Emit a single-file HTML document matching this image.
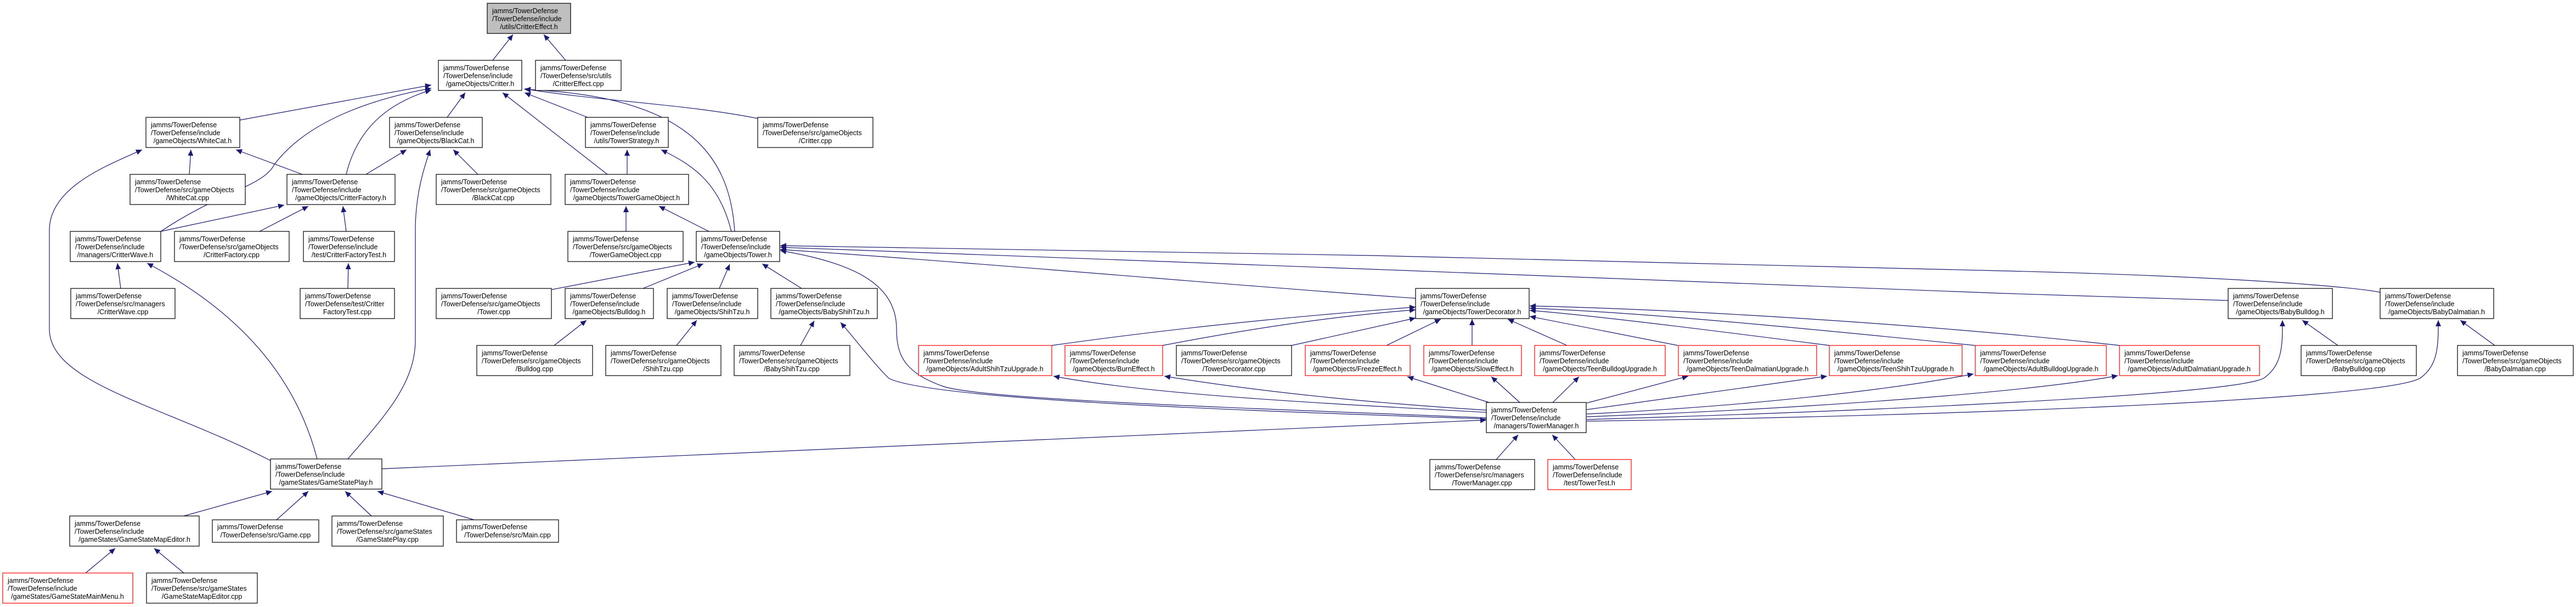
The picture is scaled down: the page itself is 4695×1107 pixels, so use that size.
<!DOCTYPE html>
<html><head><meta charset="utf-8"><style>
html,body{margin:0;padding:0;background:#fff;}
svg{display:block;}
text{font-family:"Liberation Sans",Arial,sans-serif;font-size:12.5px;fill:#000;}
.n{fill:#fff;stroke:#000;stroke-width:1.2;}
.r{fill:#fff;stroke:#ff0000;stroke-width:1.2;}
.g{fill:#bfbfbf;stroke:#000;stroke-width:1.2;}
.e{fill:none;stroke:#191970;stroke-width:1.2;marker-end:url(#a);}
</style></head><body>
<svg width="4695" height="1107" viewBox="0 0 4695 1107" xmlns="http://www.w3.org/2000/svg">
<defs><marker id="a" markerUnits="userSpaceOnUse" markerWidth="12" markerHeight="10" refX="11" refY="5" orient="auto"><path d="M0,0 L11,5 L0,10 z" fill="#191970"/></marker></defs>

<!-- edges -->
<path class="e" d="M898,110 L935,63"/>
<path class="e" d="M1031,110 L991,63"/>
<path class="e" d="M437,219 L786,155"/>
<path class="e" d="M293,422 C400,350 480,340 500,300 C560,220 680,180 786,161"/>
<path class="e" d="M631,318 C650,240 700,190 786,164"/>
<path class="e" d="M815,214 L848,169"/>
<path class="e" d="M1107,318 L916,169"/>
<path class="e" d="M1071,214 L956,169"/>
<path class="e" d="M1339,422 C1330,280 1250,175 956,163"/>
<path class="e" d="M1381,216 C1250,190 1100,185 956,162"/>
<path class="e" d="M345,318 L348,273"/>
<path class="e" d="M551,318 L430,273"/>
<path class="e" d="M493,840 C300,740 90,700 90,600 L90,420 C90,340 200,300 259,273"/>
<path class="e" d="M293,422 L518,374"/>
<path class="e" d="M473,422 L562,376"/>
<path class="e" d="M631,422 L625,376"/>
<path class="e" d="M667,318 L741,273"/>
<path class="e" d="M871,318 L826,273"/>
<path class="e" d="M634,837 C700,760 757,700 757,620 L757,420 C757,350 775,300 784,273"/>
<path class="e" d="M578,837 C540,690 440,570 268,480"/>
<path class="e" d="M220,526 L214,480"/>
<path class="e" d="M634,526 L635,480"/>
<path class="e" d="M1143,318 L1143,273"/>
<path class="e" d="M1141,422 L1141,376"/>
<path class="e" d="M1292,422 L1201,376"/>
<path class="e" d="M1333,422 C1310,330 1260,300 1205,273"/>
<path class="e" d="M1006,528 L1266,478"/>
<path class="e" d="M1172,526 L1282,481"/>
<path class="e" d="M1311,526 L1330,482"/>
<path class="e" d="M1461,526 L1389,481"/>
<path class="e" d="M2580,544 C2300,525 1800,480 1422,455"/>
<path class="e" d="M4061,548 L3650,535 L2500,491 L1422,451"/>
<path class="e" d="M4338,533 C4300,525 4100,505 3650,494 L2500,466 L1422,448"/>
<path class="e" d="M2709,762 C2300,745 1800,730 1720,705 C1650,680 1634,650 1634,600 C1634,520 1560,480 1422,457"/>
<path class="e" d="M2709,764 C2300,750 1700,730 1620,690 C1590,660 1560,620 1532,588"/>
<path class="e" d="M696,855 L2709,766"/>
<path class="e" d="M2727,838 L2767,793"/>
<path class="e" d="M2871,838 L2829,793"/>
<path class="e" d="M335,941 L496,896"/>
<path class="e" d="M504,948 L562,896"/>
<path class="e" d="M677,941 L629,896"/>
<path class="e" d="M864,948 L688,896"/>
<path class="e" d="M156,1045 L210,1000"/>
<path class="e" d="M335,1045 L281,1000"/>
<path class="e" d="M1010,630 L1069,584"/>
<path class="e" d="M1233,630 L1270,584"/>
<path class="e" d="M1459,630 L1484,585"/>
<path class="e" d="M4261,630 L4196,584"/>
<path class="e" d="M4547,630 L4484,584"/>
<path class="e" d="M1917,630 C2200,590 2450,570 2580,560"/>
<path class="e" d="M2119,630 C2300,595 2450,575 2580,565"/>
<path class="e" d="M2354,630 L2580,580"/>
<path class="e" d="M2527,630 L2626,582"/>
<path class="e" d="M2683,630 L2683,582"/>
<path class="e" d="M2856,630 L2748,582"/>
<path class="e" d="M3058,630 L2788,577"/>
<path class="e" d="M3334,630 C3100,600 2900,575 2788,566"/>
<path class="e" d="M3600,630 C3300,600 3000,570 2788,562"/>
<path class="e" d="M3863,630 C3550,595 3100,565 2788,558"/>
<path class="e" d="M2709,752 C2400,735 2100,720 1920,686"/>
<path class="e" d="M2709,748 C2500,735 2300,715 2122,686"/>
<path class="e" d="M2714,734 L2565,687"/>
<path class="e" d="M2770,734 L2718,687"/>
<path class="e" d="M2830,734 L2878,687"/>
<path class="e" d="M2892,735 L3077,686"/>
<path class="e" d="M2892,747 L3330,686"/>
<path class="e" d="M2892,755 C3200,740 3450,710 3597,682"/>
<path class="e" d="M2892,760 C3300,745 3700,715 3860,685"/>
<path class="e" d="M2892,765 C3400,750 4080,720 4127,689 C4160,665 4160,630 4160,584"/>
<path class="e" d="M2892,768 C3500,760 4350,730 4412,689 C4444,665 4444,630 4444,584"/>

<!-- nodes -->
<rect class="g" x="888" y="6" width="152" height="55"/>
<text x="897" y="24">jamms/TowerDefense</text><text x="897" y="38.5">/TowerDefense/include</text><text x="964" y="53" text-anchor="middle">/utils/CritterEffect.h</text>

<rect class="n" x="799" y="110" width="152" height="55"/>
<text x="808" y="128">jamms/TowerDefense</text><text x="808" y="142.5">/TowerDefense/include</text><text x="875" y="157" text-anchor="middle">/gameObjects/Critter.h</text>

<rect class="n" x="976" y="110" width="156" height="55"/>
<text x="985" y="128">jamms/TowerDefense</text><text x="985" y="142.5">/TowerDefense/src/utils</text><text x="1054" y="157" text-anchor="middle">/CritterEffect.cpp</text>

<rect class="n" x="266" y="214" width="171" height="55"/>
<text x="275" y="232">jamms/TowerDefense</text><text x="275" y="246.5">/TowerDefense/include</text><text x="351" y="261" text-anchor="middle">/gameObjects/WhiteCat.h</text>

<rect class="n" x="710" y="214" width="169" height="55"/>
<text x="719" y="232">jamms/TowerDefense</text><text x="719" y="246.5">/TowerDefense/include</text><text x="794" y="261" text-anchor="middle">/gameObjects/BlackCat.h</text>

<rect class="n" x="1067" y="214" width="151" height="55"/>
<text x="1076" y="232">jamms/TowerDefense</text><text x="1076" y="246.5">/TowerDefense/include</text><text x="1142" y="261" text-anchor="middle">/utils/TowerStrategy.h</text>

<rect class="n" x="1381" y="214" width="210" height="55"/>
<text x="1390" y="232">jamms/TowerDefense</text><text x="1390" y="246.5">/TowerDefense/src/gameObjects</text><text x="1486" y="261" text-anchor="middle">/Critter.cpp</text>

<rect class="n" x="237" y="318" width="210" height="55"/>
<text x="246" y="336">jamms/TowerDefense</text><text x="246" y="350.5">/TowerDefense/src/gameObjects</text><text x="342" y="365" text-anchor="middle">/WhiteCat.cpp</text>

<rect class="n" x="523" y="318" width="197" height="55"/>
<text x="532" y="336">jamms/TowerDefense</text><text x="532" y="350.5">/TowerDefense/include</text><text x="621" y="365" text-anchor="middle">/gameObjects/CritterFactory.h</text>

<rect class="n" x="795" y="318" width="209" height="55"/>
<text x="804" y="336">jamms/TowerDefense</text><text x="804" y="350.5">/TowerDefense/src/gameObjects</text><text x="899" y="365" text-anchor="middle">/BlackCat.cpp</text>

<rect class="n" x="1030" y="318" width="225" height="55"/>
<text x="1039" y="336">jamms/TowerDefense</text><text x="1039" y="350.5">/TowerDefense/include</text><text x="1142" y="365" text-anchor="middle">/gameObjects/TowerGameObject.h</text>

<rect class="n" x="128" y="422" width="165" height="55"/>
<text x="137" y="440">jamms/TowerDefense</text><text x="137" y="454.5">/TowerDefense/include</text><text x="210" y="469" text-anchor="middle">/managers/CritterWave.h</text>

<rect class="n" x="318" y="422" width="209" height="55"/>
<text x="327" y="440">jamms/TowerDefense</text><text x="327" y="454.5">/TowerDefense/src/gameObjects</text><text x="422" y="469" text-anchor="middle">/CritterFactory.cpp</text>

<rect class="n" x="553" y="422" width="166" height="55"/>
<text x="562" y="440">jamms/TowerDefense</text><text x="562" y="454.5">/TowerDefense/include</text><text x="636" y="469" text-anchor="middle">/test/CritterFactoryTest.h</text>

<rect class="n" x="1035" y="422" width="210" height="55"/>
<text x="1044" y="440">jamms/TowerDefense</text><text x="1044" y="454.5">/TowerDefense/src/gameObjects</text><text x="1140" y="469" text-anchor="middle">/TowerGameObject.cpp</text>

<rect class="n" x="1269" y="422" width="152" height="55"/>
<text x="1278" y="440">jamms/TowerDefense</text><text x="1278" y="454.5">/TowerDefense/include</text><text x="1345" y="469" text-anchor="middle">/gameObjects/Tower.h</text>

<rect class="n" x="129" y="526" width="190" height="55"/>
<text x="138" y="544">jamms/TowerDefense</text><text x="138" y="558.5">/TowerDefense/src/managers</text><text x="224" y="573" text-anchor="middle">/CritterWave.cpp</text>

<rect class="n" x="547" y="526" width="172" height="55"/>
<text x="556" y="544">jamms/TowerDefense</text><text x="556" y="558.5">/TowerDefense/test/Critter</text><text x="633" y="573" text-anchor="middle">FactoryTest.cpp</text>

<rect class="n" x="795" y="526" width="210" height="55"/>
<text x="804" y="544">jamms/TowerDefense</text><text x="804" y="558.5">/TowerDefense/src/gameObjects</text><text x="900" y="573" text-anchor="middle">/Tower.cpp</text>

<rect class="n" x="1030" y="526" width="161" height="55"/>
<text x="1039" y="544">jamms/TowerDefense</text><text x="1039" y="558.5">/TowerDefense/include</text><text x="1110" y="573" text-anchor="middle">/gameObjects/Bulldog.h</text>

<rect class="n" x="1216" y="526" width="165" height="55"/>
<text x="1225" y="544">jamms/TowerDefense</text><text x="1225" y="558.5">/TowerDefense/include</text><text x="1298" y="573" text-anchor="middle">/gameObjects/ShihTzu.h</text>

<rect class="n" x="1405" y="526" width="194" height="55"/>
<text x="1414" y="544">jamms/TowerDefense</text><text x="1414" y="558.5">/TowerDefense/include</text><text x="1502" y="573" text-anchor="middle">/gameObjects/BabyShihTzu.h</text>

<rect class="n" x="2580" y="526" width="207" height="55"/>
<text x="2589" y="544">jamms/TowerDefense</text><text x="2589" y="558.5">/TowerDefense/include</text><text x="2683" y="573" text-anchor="middle">/gameObjects/TowerDecorator.h</text>

<rect class="n" x="4061" y="526" width="190" height="55"/>
<text x="4070" y="544">jamms/TowerDefense</text><text x="4070" y="558.5">/TowerDefense/include</text><text x="4156" y="573" text-anchor="middle">/gameObjects/BabyBulldog.h</text>

<rect class="n" x="4338" y="526" width="207" height="55"/>
<text x="4347" y="544">jamms/TowerDefense</text><text x="4347" y="558.5">/TowerDefense/include</text><text x="4441" y="573" text-anchor="middle">/gameObjects/BabyDalmatian.h</text>

<rect class="n" x="869" y="630" width="211" height="55"/>
<text x="878" y="648">jamms/TowerDefense</text><text x="878" y="662.5">/TowerDefense/src/gameObjects</text><text x="974" y="677" text-anchor="middle">/Bulldog.cpp</text>

<rect class="n" x="1104" y="630" width="210" height="55"/>
<text x="1113" y="648">jamms/TowerDefense</text><text x="1113" y="662.5">/TowerDefense/src/gameObjects</text><text x="1209" y="677" text-anchor="middle">/ShihTzu.cpp</text>

<rect class="n" x="1338" y="630" width="211" height="55"/>
<text x="1347" y="648">jamms/TowerDefense</text><text x="1347" y="662.5">/TowerDefense/src/gameObjects</text><text x="1443" y="677" text-anchor="middle">/BabyShihTzu.cpp</text>

<rect class="r" x="1674" y="630" width="243" height="55"/>
<text x="1683" y="648">jamms/TowerDefense</text><text x="1683" y="662.5">/TowerDefense/include</text><text x="1795" y="677" text-anchor="middle">/gameObjects/AdultShihTzuUpgrade.h</text>

<rect class="r" x="1941" y="630" width="178" height="55"/>
<text x="1950" y="648">jamms/TowerDefense</text><text x="1950" y="662.5">/TowerDefense/include</text><text x="2030" y="677" text-anchor="middle">/gameObjects/BurnEffect.h</text>

<rect class="n" x="2144" y="630" width="210" height="55"/>
<text x="2153" y="648">jamms/TowerDefense</text><text x="2153" y="662.5">/TowerDefense/src/gameObjects</text><text x="2249" y="677" text-anchor="middle">/TowerDecorator.cpp</text>

<rect class="r" x="2379" y="630" width="191" height="55"/>
<text x="2388" y="648">jamms/TowerDefense</text><text x="2388" y="662.5">/TowerDefense/include</text><text x="2474" y="677" text-anchor="middle">/gameObjects/FreezeEffect.h</text>

<rect class="r" x="2595" y="630" width="178" height="55"/>
<text x="2604" y="648">jamms/TowerDefense</text><text x="2604" y="662.5">/TowerDefense/include</text><text x="2684" y="677" text-anchor="middle">/gameObjects/SlowEffect.h</text>

<rect class="r" x="2797" y="630" width="238" height="55"/>
<text x="2806" y="648">jamms/TowerDefense</text><text x="2806" y="662.5">/TowerDefense/include</text><text x="2916" y="677" text-anchor="middle">/gameObjects/TeenBulldogUpgrade.h</text>

<rect class="r" x="3059" y="630" width="252" height="55"/>
<text x="3068" y="648">jamms/TowerDefense</text><text x="3068" y="662.5">/TowerDefense/include</text><text x="3185" y="677" text-anchor="middle">/gameObjects/TeenDalmatianUpgrade.h</text>

<rect class="r" x="3334" y="630" width="242" height="55"/>
<text x="3343" y="648">jamms/TowerDefense</text><text x="3343" y="662.5">/TowerDefense/include</text><text x="3455" y="677" text-anchor="middle">/gameObjects/TeenShihTzuUpgrade.h</text>

<rect class="r" x="3600" y="630" width="239" height="55"/>
<text x="3609" y="648">jamms/TowerDefense</text><text x="3609" y="662.5">/TowerDefense/include</text><text x="3720" y="677" text-anchor="middle">/gameObjects/AdultBulldogUpgrade.h</text>

<rect class="r" x="3863" y="630" width="255" height="55"/>
<text x="3872" y="648">jamms/TowerDefense</text><text x="3872" y="662.5">/TowerDefense/include</text><text x="3990" y="677" text-anchor="middle">/gameObjects/AdultDalmatianUpgrade.h</text>

<rect class="n" x="4194" y="630" width="210" height="55"/>
<text x="4203" y="648">jamms/TowerDefense</text><text x="4203" y="662.5">/TowerDefense/src/gameObjects</text><text x="4299" y="677" text-anchor="middle">/BabyBulldog.cpp</text>

<rect class="n" x="4479" y="630" width="211" height="55"/>
<text x="4488" y="648">jamms/TowerDefense</text><text x="4488" y="662.5">/TowerDefense/src/gameObjects</text><text x="4584" y="677" text-anchor="middle">/BabyDalmatian.cpp</text>

<rect class="n" x="2709" y="734" width="182" height="55"/>
<text x="2718" y="752">jamms/TowerDefense</text><text x="2718" y="766.5">/TowerDefense/include</text><text x="2800" y="781" text-anchor="middle">/managers/TowerManager.h</text>

<rect class="n" x="2606" y="838" width="191" height="55"/>
<text x="2615" y="856">jamms/TowerDefense</text><text x="2615" y="870.5">/TowerDefense/src/managers</text><text x="2701" y="885" text-anchor="middle">/TowerManager.cpp</text>

<rect class="r" x="2821" y="838" width="152" height="55"/>
<text x="2830" y="856">jamms/TowerDefense</text><text x="2830" y="870.5">/TowerDefense/include</text><text x="2897" y="885" text-anchor="middle">/test/TowerTest.h</text>

<rect class="n" x="493" y="837" width="203" height="55"/>
<text x="502" y="855">jamms/TowerDefense</text><text x="502" y="869.5">/TowerDefense/include</text><text x="594" y="884" text-anchor="middle">/gameStates/GameStatePlay.h</text>

<rect class="n" x="127" y="941" width="236" height="55"/>
<text x="136" y="959">jamms/TowerDefense</text><text x="136" y="973.5">/TowerDefense/include</text><text x="245" y="988" text-anchor="middle">/gameStates/GameStateMapEditor.h</text>

<rect class="n" x="387" y="948" width="194" height="41"/>
<text x="396" y="965">jamms/TowerDefense</text><text x="484" y="980" text-anchor="middle">/TowerDefense/src/Game.cpp</text>

<rect class="n" x="605" y="941" width="203" height="55"/>
<text x="614" y="959">jamms/TowerDefense</text><text x="614" y="973.5">/TowerDefense/src/gameStates</text><text x="706" y="988" text-anchor="middle">/GameStatePlay.cpp</text>

<rect class="n" x="832" y="948" width="186" height="41"/>
<text x="841" y="965">jamms/TowerDefense</text><text x="925" y="980" text-anchor="middle">/TowerDefense/src/Main.cpp</text>

<rect class="r" x="5" y="1045" width="237" height="55"/>
<text x="14" y="1063">jamms/TowerDefense</text><text x="14" y="1077.5">/TowerDefense/include</text><text x="123" y="1092" text-anchor="middle">/gameStates/GameStateMainMenu.h</text>

<rect class="n" x="267" y="1045" width="202" height="55"/>
<text x="276" y="1063">jamms/TowerDefense</text><text x="276" y="1077.5">/TowerDefense/src/gameStates</text><text x="368" y="1092" text-anchor="middle">/GameStateMapEditor.cpp</text>
</svg>
</body></html>
